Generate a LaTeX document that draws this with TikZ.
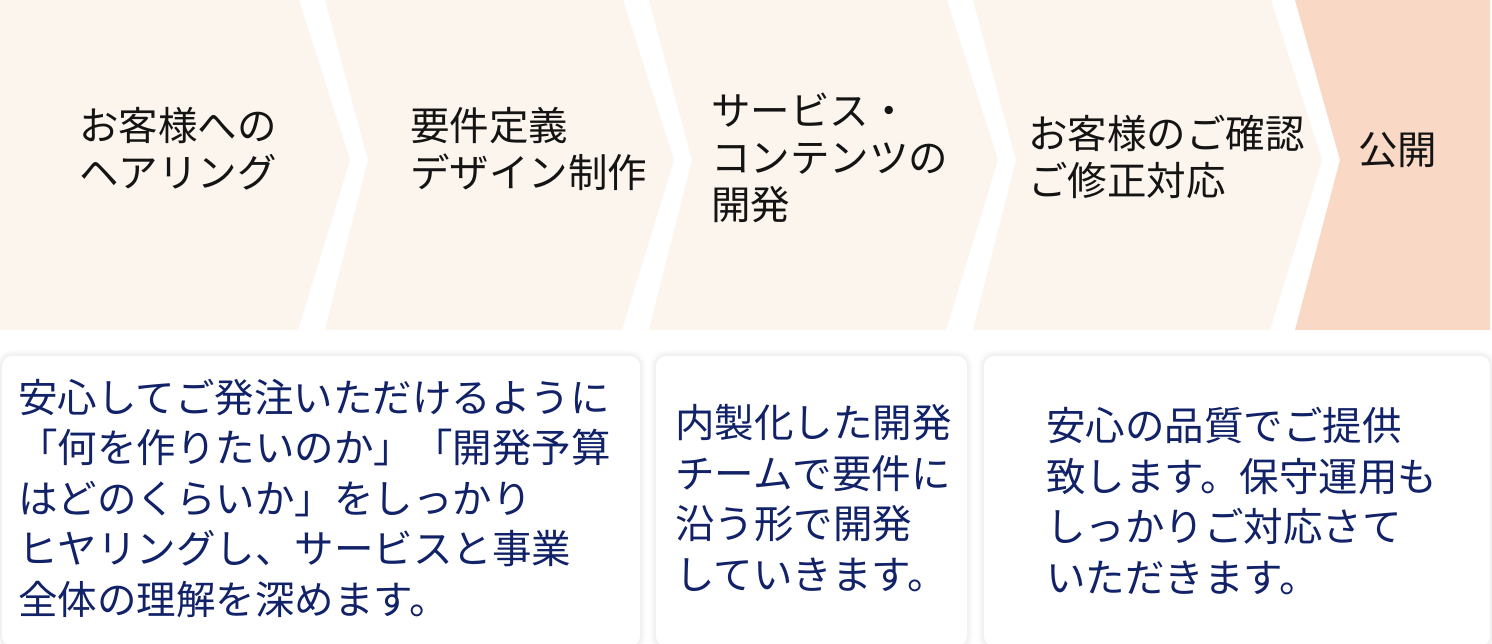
\documentclass[tikz,border=0pt]{standalone}
\usepackage{fontspec}
\setmainfont{Noto Sans CJK JP}
\definecolor{cream}{RGB}{252,245,238}
\definecolor{peach}{RGB}{249,216,198}
\definecolor{navy}{RGB}{18,34,104}
\definecolor{ink}{RGB}{20,20,20}
\begin{document}
\begin{tikzpicture}[x=1pt,y=-1pt,
  toptext/.style={anchor=west,inner sep=0pt,align=left,text=ink,font=\fontsize{39.5}{47}\selectfont},
  bodytext/.style={anchor=west,inner sep=0pt,align=left,text=navy,font=\fontsize{39.5}{50.5}\selectfont},
  stepshape/.style={fill=cream},
  laststep/.style={fill=peach},
  cardshadow/.style={draw=black,rounded corners=10pt},
  cardbox/.style={fill=white,rounded corners=10pt}]
\useasboundingbox[fill=white] (0,0) rectangle (1492,644);
% chevrons
\fill[stepshape] (0,0) -- (299,0) -- (350,160) -- (298,330) -- (0,330) -- cycle;
\foreach \n in {1,2,3}{
  \fill[stepshape] ({325+324*(\n-1)},0) -- ({299+324*\n},0) -- ({350+324*\n},160)
     -- ({298+324*\n},330) -- ({325+324*(\n-1)},330) -- ({368+324*(\n-1)},160) -- cycle;
}
\fill[laststep] (1295,0) -- (1490,0) -- (1490,330) -- (1295,330) -- (1340,160) -- cycle;
% cards
\foreach \a/\b in {2/640,656/967,984/1490}{
  \draw[cardshadow,line width=12pt,draw opacity=0.012] (\a,356) rectangle (\b,646);
  \draw[cardshadow,line width=8pt,draw opacity=0.018] (\a,356) rectangle (\b,646);
  \draw[cardshadow,line width=4pt,draw opacity=0.025] (\a,356) rectangle (\b,646);
  \fill[cardbox] (\a,356) rectangle (\b,646);
}
% step labels
\node[toptext] (s1) at (79,149) {お客様への\\ヘアリング};
\node[toptext] (s2) at (410,149) {要件定義\\デザイン制作};
\node[toptext] (s3) at (711,158) {サービス・\\コンテンツの\\開発};
\node[toptext] (s4) at (1028,157) {お客様のご確認\\ご修正対応};
\node[toptext] (s5) at (1358,150) {公開};
% card texts
\node[bodytext] (c1) at (18,498) {安心してご発注いただけるように\\「何を作りたいのか」「開発予算\\はどのくらいか」をしっかり\\ヒヤリングし、サービスと事業\\全体の理解を深めます。};
\node[bodytext] (c2) at (675,498) {内製化した開発\\チームで要件に\\沿う形で開発\\していきます。};
\node[bodytext] (c3) at (1046,501) {安心の品質でご提供\\致します。保守運用も\\しっかりご対応さて\\いただきます。};
\end{tikzpicture}
\end{document}
